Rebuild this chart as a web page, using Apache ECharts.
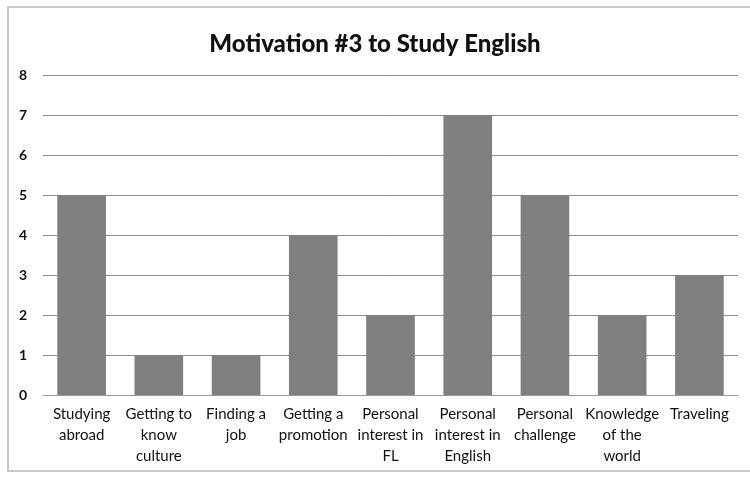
<!DOCTYPE html>
<html>
<head>
<meta charset="utf-8">
<script src="https://cdn.jsdelivr.net/npm/echarts@6/dist/echarts.min.js"></script>
<style>
    html, body { margin: 0; padding: 0; background: #fff; }
    #chart { width: 750px; height: 477px; }
</style>
</head>
<body>
<div id="chart"></div>
<script>
// categories as printed under the bars (line breaks as in the picture)
const categories = [
    'Studying\nabroad',
    'Getting to\nknow\nculture',
    'Finding a\njob',
    'Getting a\npromotion',
    'Personal\ninterest in\nFL',
    'Personal\ninterest in\nEnglish',
    'Personal\nchallenge',
    'Knowledge\nof the\nworld',
    'Traveling'
]
const counts = [5, 1, 1, 4, 2, 7, 5, 2, 3]
const yTicks = [0, 1, 2, 3, 4, 5, 6, 7, 8]

const chart = echarts.init(document.getElementById('chart'))

const font = 'Lato, "Open Sans", sans-serif'

chart.setOption({
    animation: false,
    backgroundColor: '#fff',
    title: {
        text: 'Motivation #3 to Study English',
        left: 'center',
        top: 27,
        textStyle: {
            fontFamily: font,
            fontSize: 24,
            fontWeight: 900,
            color: '#111'
        }
    },
    graphic: [
        {
            type: 'rect',
            shape: { x: 8, y: 7, width: 760, height: 464 },
            style: { fill: 'none', stroke: '#c8c8c8', lineWidth: 2 },
            silent: true
        }
    ],
    grid: {
        left: 43,
        right: 12,
        top: 75,
        bottom: 82
    },
    xAxis: {
        type: 'category',
        data: categories,
        axisLine: { lineStyle: { color: '#9a9a9a', width: 1 } },
        axisTick: { show: false },
        axisLabel: {
            interval: 0,
            margin: 9,
            fontFamily: font,
            fontSize: 15,
            lineHeight: 21,
            color: '#111'
        }
    },
    yAxis: {
        type: 'value',
        min: yTicks[0],
        max: yTicks[yTicks.length - 1],
        interval: 1,
        axisLine: { show: false },
        axisTick: { show: false },
        splitLine: { lineStyle: { color: '#8c8c8c', width: 1 } },
        axisLabel: {
            margin: 16,
            fontFamily: font,
            fontSize: 14,
            fontWeight: 'bold',
            color: '#111'
        }
    },
    series: [
        {
            type: 'bar',
            data: counts,
            barWidth: '63%',
            itemStyle: { color: '#7f7f7f' }
        }
    ]
})
</script>
</body>
</html>
